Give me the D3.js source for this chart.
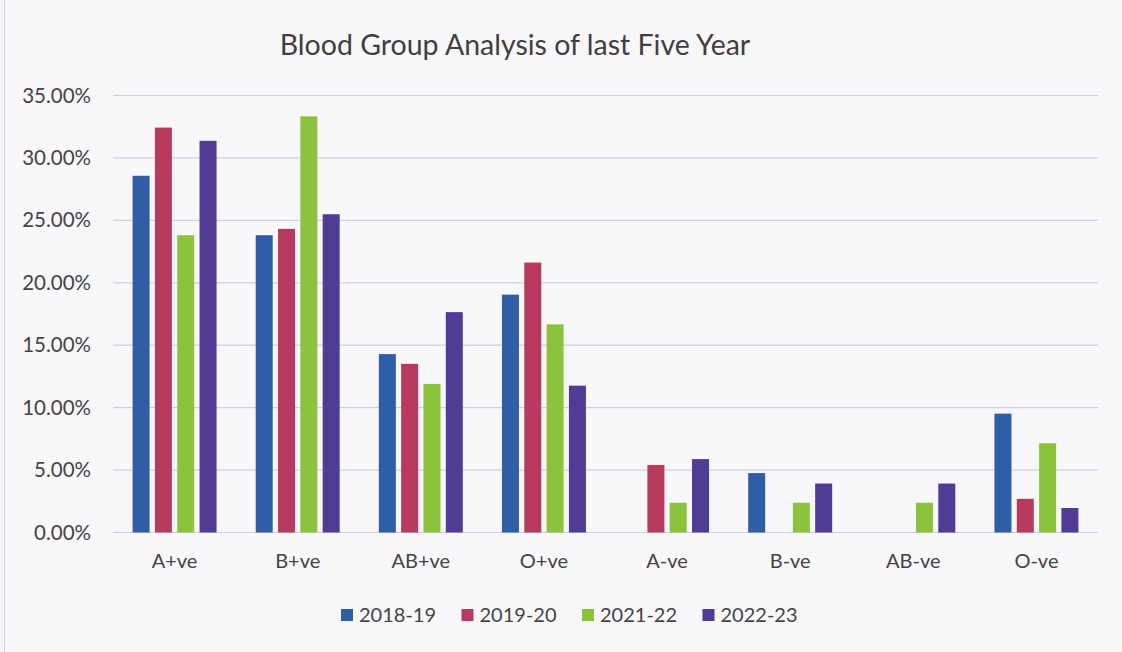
<!DOCTYPE html>
<html>
<head>
<meta charset="utf-8">
<script src="https://cdn.jsdelivr.net/npm/d3@7"></script>
<style>
  body { margin: 0; background: #f7f7f9; }
  svg { display: block; }
</style>
</head>
<body>
<div id="chart"></div>
<script>
// data
var groups = ["A+ve", "B+ve", "AB+ve", "O+ve", "A-ve", "B-ve", "AB-ve", "O-ve"];
var years = ["2018-19", "2019-20", "2021-22", "2022-23"];
var y2018_19 = [28.57, 23.81, 14.29, 19.05, 0, 4.76, 0, 9.52];
var y2019_20 = [32.43, 24.32, 13.51, 21.62, 5.41, 0, 0, 2.70];
var y2021_22 = [23.81, 33.33, 11.90, 16.67, 2.38, 2.38, 2.38, 7.14];
var y2022_23 = [31.37, 25.49, 17.65, 11.76, 5.88, 3.92, 3.92, 1.96];
var yTicks = [0, 5, 10, 15, 20, 25, 30, 35];
var colors = ["#2f5ea6", "#b93a5f", "#8cc33c", "#503b95"];

var series = [y2018_19, y2019_20, y2021_22, y2022_23];

var svgWidth = 1122, svgHeight = 652;
var margin = { top: 95.5, right: 24, bottom: 119.5, left: 113 };
var width = svgWidth - margin.left - margin.right;
var height = svgHeight - margin.top - margin.bottom;
var font = "Lato, 'Open Sans', sans-serif";
var textColor = "#444";

var svg = d3.select("#chart")
    .append("svg")
    .attr("width", svgWidth)
    .attr("height", svgHeight);

// outer frame
svg.append("rect")
    .attr("x", 4.5).attr("y", -2)
    .attr("width", svgWidth - 2).attr("height", svgHeight + 4)
    .attr("fill", "#f8f8fa")
    .attr("stroke", "#d6d4e6")
    .attr("stroke-width", 1);

var g = svg.append("g")
    .attr("transform", "translate(" + margin.left + "," + margin.top + ")");

var x0 = d3.scaleBand()
    .domain(groups)
    .range([0, width])
    .paddingInner(0.318)
    .paddingOuter(0.159);

var x1 = d3.scaleBand()
    .domain(years)
    .range([0, x0.bandwidth()])
    .paddingInner(0.238);

var y = d3.scaleLinear().domain([0, 35]).range([height, 0]);

// gridlines
g.append("g")
    .selectAll("line")
    .data(yTicks)
    .enter().append("line")
    .attr("x1", 0)
    .attr("x2", width)
    .attr("y1", function(d) { return y(d); })
    .attr("y2", function(d) { return y(d); })
    .attr("stroke", "#cfcde3")
    .attr("stroke-width", 1.2);

// y axis labels
var yAxis = g.append("g")
    .call(d3.axisLeft(y).tickValues(yTicks).tickSize(0).tickPadding(22)
        .tickFormat(function(d) { return d.toFixed(2) + "%"; }));
yAxis.select(".domain").remove();
yAxis.selectAll("text")
    .style("font-family", font)
    .style("font-size", "20.5px")
    .attr("fill", textColor);

// bars
var rows = groups.map(function(grp, i) {
    return { group: grp, values: years.map(function(yr, j) { return { year: yr, value: series[j][i], idx: j }; }) };
});

g.selectAll(".grp")
    .data(rows)
    .enter().append("g")
    .attr("class", "grp")
    .attr("transform", function(d) { return "translate(" + x0(d.group) + ",0)"; })
    .selectAll("rect")
    .data(function(d) { return d.values; })
    .enter().append("rect")
    .attr("x", function(d) { return x1(d.year); })
    .attr("y", function(d) { return y(d.value); })
    .attr("width", x1.bandwidth())
    .attr("height", function(d) { return height - y(d.value); })
    .attr("fill", function(d) { return colors[d.idx]; });

// x axis labels
var xAxis = g.append("g")
    .attr("transform", "translate(0," + height + ")")
    .call(d3.axisBottom(x0).tickSize(0).tickPadding(21));
xAxis.select(".domain").remove();
xAxis.selectAll("text")
    .style("font-family", font)
    .style("font-size", "20px")
    .attr("fill", textColor);

// title
svg.append("text")
    .attr("x", 515)
    .attr("y", 55)
    .attr("text-anchor", "middle")
    .style("font-family", font)
    .style("font-size", "28.5px")
    .attr("fill", "#3f3f3f")
    .text("Blood Group Analysis of last Five Year");

// legend
var legend = svg.append("g")
    .attr("transform", "translate(341,615)");

var item = legend.selectAll(".item")
    .data(years)
    .enter().append("g")
    .attr("class", "item")
    .attr("transform", function(d, i) { return "translate(" + (i * 120.5) + ",0)"; });

item.append("rect")
    .attr("x", 0).attr("y", -6)
    .attr("width", 12).attr("height", 12)
    .attr("fill", function(d, i) { return colors[i]; });

item.append("text")
    .attr("x", 18)
    .attr("y", 7)
    .style("font-family", font)
    .style("font-size", "20px")
    .attr("fill", textColor)
    .text(function(d) { return d; });
</script>
</body>
</html>
